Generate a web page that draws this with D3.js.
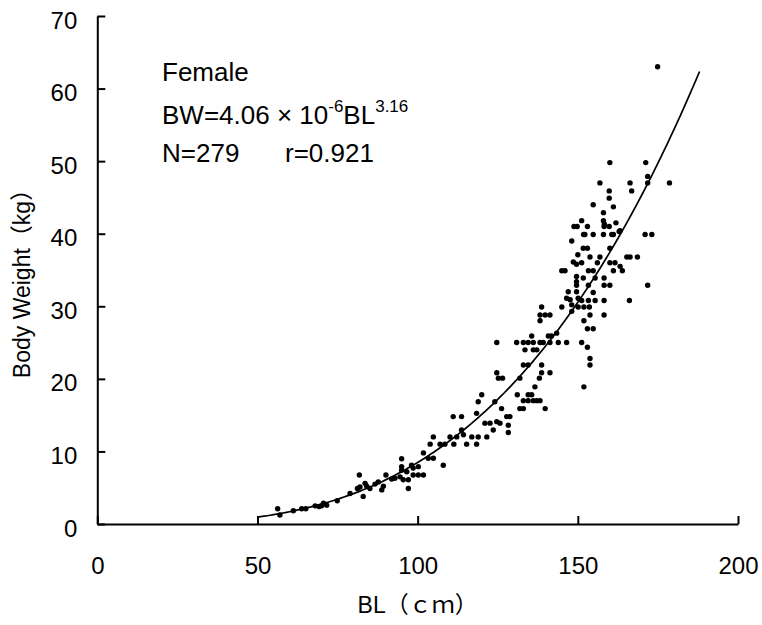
<!DOCTYPE html>
<html>
<head>
<meta charset="utf-8">
<script src="https://cdn.jsdelivr.net/npm/d3@7"></script>
<style>
  body { margin: 0; background: #fff; }
  svg { display: block; font-family: "Liberation Sans", Arial, "Noto Sans CJK JP", sans-serif; }
</style>
</head>
<body>
<svg id="chart" width="762" height="625"></svg>
<script>
// Body length (cm) of each fish
const bl = [
  56.3, 57.0, 61.2, 63.8, 65.1, 68.0, 69.2, 70.6, 71.6, 70.0, 74.9, 78.9,
  81.8, 81.2, 82.0, 83.0, 83.6, 84.1, 85.1, 86.7, 87.7, 88.8, 89.3, 90.1,
  91.9, 92.9, 94.5, 95.0, 95.0, 95.5, 96.6, 97.1, 97.1, 98.1, 98.6, 98.6,
  100.2, 100.2, 101.8, 95.0, 101.8, 103.3, 104.9, 108.0,
  103.9, 104.9, 107.0, 108.5, 110.1, 111.3, 112.2, 113.7, 114.3, 115.3, 116.9, 118.4,
  118.9, 121.6, 111.1, 113.7, 118.4, 118.9, 120.0, 121.0, 122.6, 123.6, 124.1, 124.7,
  125.7, 126.2, 127.8, 128.3, 128.8, 128.3, 124.7, 124.7, 125.2, 126.5, 130.9, 131.9,
  131.1, 133.0, 133.5, 134.5, 135.6, 136.1, 136.1, 137.2, 138.2, 133.0, 134.5, 138.7,
  138.7, 138.0, 136.6, 134.5, 135.6, 136.1, 134.5, 137.2, 138.2, 133.0, 133.0, 131.9,
  139.8, 141.3, 139.2, 140.8, 141.8, 141.3, 143.4, 143.9, 146.5, 138.7, 138.2, 139.8,
  141.3, 138.2, 145.0, 146.5, 147.0, 147.6, 148.1, 149.6, 150.1, 145.0, 146.0, 148.6,
  149.6, 149.6, 149.6, 148.1, 150.1, 149.6,
  151.8, 152.2, 154.8, 158.0, 160.6, 161.1, 162.9, 171.0, 173.1, 148.1, 151.7, 153.0,
  160.0, 150.0, 153.8, 156.9, 165.3, 166.3, 168.6, 151.2, 156.1, 160.0, 161.6, 163.2,
  163.9, 153.3, 154.8, 161.1, 151.7, 155.4, 158.2, 153.3, 158.2, 160.0, 171.8, 154.8,
  151.2, 153.3, 155.4, 158.2, 166.1, 151.9, 153.6, 153.8, 158.2, 151.9, 153.0, 154.8,
  151.2, 153.0, 153.8, 153.8, 151.9,
  174.9, 160.0, 171.2, 156.9, 166.3, 166.8, 171.8, 171.8, 178.6, 159.8, 159.8, 161.1,
  154.8, 158.0, 151.2, 158.0, 158.3, 161.9, 148.8, 149.8, 153.0, 158.2, 159.8, 163.2
];
// Body weight (kg), same order
const bw = [
  2.1, 1.24, 1.83, 2.1, 2.1, 2.5, 2.4, 2.85, 2.6, 2.5, 3.2, 4.2,
  6.75, 4.9, 5.1, 3.8, 5.6, 5.2, 4.9, 5.5, 5.8, 4.7, 5.2, 6.75,
  6.2, 6.3, 6.5, 7.9, 7.4, 6.1, 7.2, 6.1, 4.9, 8.1, 7.7, 6.75,
  7.9, 6.75, 6.75, 9.0, 9.8, 9.05, 9.05, 8.1,
  11.0, 12.0, 11.0, 11.0, 12.0, 11.0, 12.0, 12.95, 12.3, 11.0, 12.0, 11.0,
  12.0, 12.0, 14.8, 14.8, 15.25, 16.85, 17.8, 13.9, 13.9, 12.95, 16.85, 14.1,
  13.9, 15.9, 14.8, 13.6, 14.8, 12.6, 25.0, 20.85, 20.1, 20.1, 25.0, 20.1,
  17.8, 25.0, 24.0, 25.0, 25.9, 25.0, 24.0, 24.0, 25.0, 21.9, 21.9, 21.9,
  20.85, 20.1, 18.9, 17.8, 17.8, 17.0, 17.0, 17.0, 17.0, 17.0, 15.9, 15.9,
  15.9, 20.85, 25.0, 25.9, 25.9, 25.0, 26.3, 25.0, 25.0, 29.9, 28.8, 28.8,
  28.8, 28.0, 29.9, 31.1, 32.0, 30.9, 30.2, 32.0, 31.1, 34.9, 34.9, 36.1,
  34.1, 33.4, 32.9, 29.3, 29.9, 35.8,
  39.9, 39.9, 39.9, 39.9, 39.9, 39.9, 40.3, 39.9, 39.9, 39.0, 38.0, 38.0,
  38.0, 37.1, 36.8, 36.8, 36.8, 36.8, 36.8, 36.0, 36.0, 36.0, 36.0, 35.5,
  34.9, 34.9, 34.9, 34.9, 33.9, 33.9, 33.9, 32.9, 32.9, 32.9, 32.9, 31.9,
  30.8, 30.8, 30.8, 30.8, 30.8, 29.9, 29.9, 28.8, 28.8, 28.0, 26.9, 26.9,
  25.0, 24.35, 22.8, 21.9, 18.9,
  63.0, 49.8, 49.8, 47.0, 47.0, 45.9, 47.9, 47.0, 47.0, 45.9, 44.9, 43.7,
  44.0, 42.9, 41.8, 41.8, 41.3, 41.5, 41.0, 41.0, 41.0, 41.0, 41.0, 40.4
];

const xTicks = [0, 50, 100, 150, 200];
const yTicks = [0, 10, 20, 30, 40, 50, 60, 70];

// fitted curve printed on the chart: BW = 4.06e-6 * BL^3.16
const fitA = 4.06e-6;
const fitB = 3.16;
const fitFrom = 50;
const fitTo = 188;

const svg = d3.select('#chart');

const x = d3.scaleLinear().domain([0, 200]).range([97.3, 738]);
const y = d3.scaleLinear().domain([0, 70]).range([524, 16]);

// Axes, ticks pointing inward
const xAxis = svg.append('g')
    .attr('transform', `translate(0,${y(0)})`)
    .call(d3.axisBottom(x).tickValues(xTicks).tickSizeInner(-8).tickSizeOuter(0).tickPadding(33));

const yAxis = svg.append('g')
    .attr('transform', `translate(${x(0)},0)`)
    .call(d3.axisLeft(y).tickValues(yTicks).tickSizeInner(-8).tickSizeOuter(0).tickPadding(20));

[xAxis, yAxis].forEach(g => {
    g.select('.domain').attr('stroke', '#000').attr('stroke-width', 2);
    g.selectAll('.tick line').attr('stroke', '#000').attr('stroke-width', 2);
    g.selectAll('.tick text')
        .attr('fill', '#000')
        .style('font-family', '"Liberation Sans", Arial, sans-serif')
        .style('font-size', '24px');
});
yAxis.selectAll('.tick text').attr('dy', '0.5em');

// Fitted curve
const curveX = d3.range(fitFrom, fitTo + 0.5, 1);
const line = d3.line()
    .x(d => x(d))
    .y(d => y(fitA * Math.pow(d, fitB)));

svg.append('path')
    .datum(curveX)
    .attr('d', line)
    .attr('fill', 'none')
    .attr('stroke', '#000')
    .attr('stroke-width', 1.7);

// Points
svg.append('g')
    .selectAll('circle')
    .data(d3.range(bl.length))
    .join('circle')
    .attr('cx', i => x(bl[i]))
    .attr('cy', i => y(bw[i]))
    .attr('r', 2.7)
    .attr('fill', '#000');

// Annotation
const note = svg.append('g').style('font-size', '26px').attr('fill', '#000');
note.append('text').attr('x', 162).attr('y', 81).text('Female');

const eq = note.append('text').attr('x', 162).attr('y', 124);
eq.append('tspan').text('BW=4.06 × 10');
eq.append('tspan').attr('dy', -12).style('font-size', '17px').text('-6');
eq.append('tspan').attr('dy', 12).text('BL');
eq.append('tspan').attr('dy', -12).style('font-size', '17px').text('3.16');

note.append('text').attr('x', 162).attr('y', 162).text('N=279');
note.append('text').attr('x', 285).attr('y', 162).text('r=0.921');

// Axis titles
svg.append('text')
    .attr('x', x(100))
    .attr('y', 613)
    .attr('text-anchor', 'middle')
    .style('font-size', '23px')
    .text('BL（ｃｍ）');

svg.append('text')
    .attr('transform', `translate(30,${y(35) + 8}) rotate(-90)`)
    .attr('text-anchor', 'middle')
    .style('font-size', '23px')
    .text('Body Weight（kg）');
</script>
</body>
</html>
